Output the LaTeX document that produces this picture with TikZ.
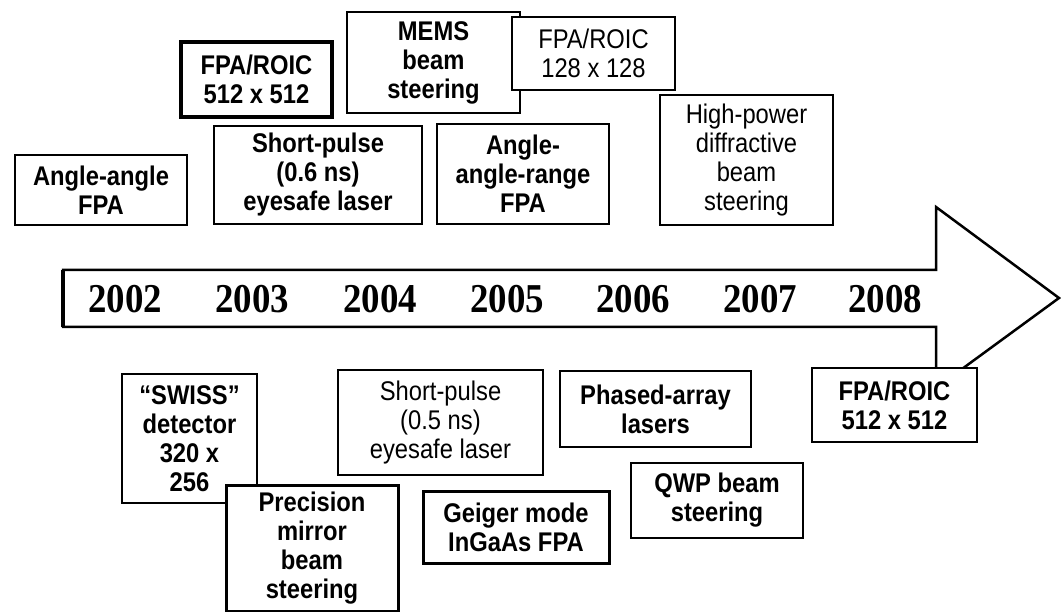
\documentclass[tikz,border=0pt]{standalone}
\usepackage{fontspec}
\newfontfamily\boxfont[FakeStretch=0.88]{Liberation Sans}
\newfontfamily\yearfont[FakeStretch=0.9]{Liberation Serif}
\tikzset{
  evbox/.style={draw=black, fill=white, line width=2.5pt, align=center, inner sep=0pt,
    font=\boxfont\bfseries\fontsize{27}{29}\selectfont},
  evlight/.style={evbox, font=\boxfont\fontsize{27}{29}\selectfont},
  yearlbl/.style={anchor=base, inner sep=0pt, font=\yearfont\bfseries\fontsize{41}{41}\selectfont},
  timearrow/.style={draw=black, fill=white, line width=2.5pt, line join=miter}
}
\begin{document}
\begin{tikzpicture}[x=1pt, y=-1pt]
\useasboundingbox (0,0) rectangle (1061,612);
% timeline arrow
\coordinate (s1) at (63,270);
\coordinate (s2) at (936,270);
\coordinate (h1) at (936,207);
\coordinate (tip) at (1059,298);
\coordinate (h2) at (936,388);
\coordinate (s3) at (936,327);
\coordinate (s4) at (63,327);
\draw[timearrow] (s1) -- (s2) -- (h1) -- (tip) -- (h2) -- (s3) -- (s4) -- cycle;
\draw[line width=4pt] (s1) -- (s4);
% years
\node[yearlbl] (y2002) at (125,313) {2002};
\node[yearlbl] (y2003) at (252,313) {2003};
\node[yearlbl] (y2004) at (380,313) {2004};
\node[yearlbl] (y2005) at (507,313) {2005};
\node[yearlbl] (y2006) at (633,313) {2006};
\node[yearlbl] (y2007) at (760,313) {2007};
\node[yearlbl] (y2008) at (885,313) {2008};
% upper events
\node[evbox, minimum width=172pt, minimum height=70pt] (a1) at (101,190) {Angle-angle\\FPA};
\node[evbox, minimum width=151pt, minimum height=75pt, line width=3.5pt] (a2) at (256.5,79.5) {FPA/ROIC\\512 x 512};
\node[evbox, minimum width=208pt, minimum height=98pt] (a3) at (318,175) {Short-pulse\\(0.6 ns)\\eyesafe laser};
\node[evbox, minimum width=173pt, minimum height=101pt] (a4) at (433.5,62.5) {MEMS\\beam\\steering};
\node[evlight, minimum width=163pt, minimum height=73pt] (a5) at (593.5,53.5) {FPA/ROIC\\128 x 128};
\node[evbox, minimum width=172pt, minimum height=100pt] (a6) at (523,174) {Angle-\\angle-range\\FPA};
\node[evlight, minimum width=173pt, minimum height=130pt] (a7) at (746.5,160) {High-power\\diffractive\\beam\\steering};
% lower events
\node[evbox, minimum width=135pt, minimum height=129pt] (b1) at (189.5,438.5) {“SWISS”\\detector\\320 x\\256};
\node[evbox, minimum width=172pt, minimum height=126pt, line width=3pt] (b2) at (312,548) {Precision\\mirror\\beam\\steering};
\node[evlight, minimum width=205pt, minimum height=105pt] (b3) at (440.5,422.5) {Short-pulse\\(0.5 ns)\\eyesafe laser};
\node[evbox, minimum width=186pt, minimum height=72pt, line width=3pt] (b4) at (516,527) {Geiger mode\\InGaAs FPA};
\node[evbox, minimum width=191pt, minimum height=76pt] (b5) at (655.5,409) {Phased-array\\lasers};
\node[evbox, minimum width=172pt, minimum height=75pt] (b6) at (717,500.5) {QWP beam\\steering};
\node[evbox, minimum width=165pt, minimum height=74pt] (b7) at (894.5,405) {FPA/ROIC\\512 x 512};
\end{tikzpicture}
\end{document}
